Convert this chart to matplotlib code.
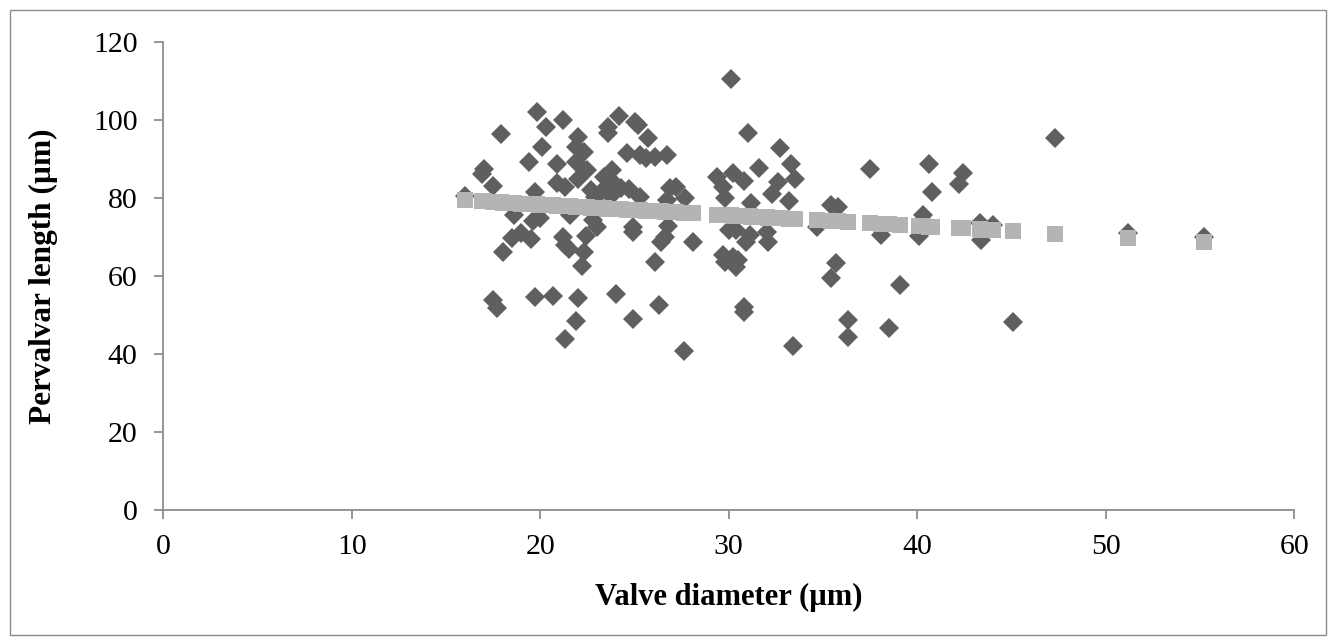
import numpy as np
import matplotlib
matplotlib.use("Agg")
import matplotlib.pyplot as plt
from matplotlib.patches import Rectangle

# Valve diameter (µm) and pervalvar length (µm)
valve_diameter = [
    16.0, 17.0, 16.9, 17.5, 17.9, 19.8, 20.3, 21.2, 20.1, 19.4, 20.9, 22.0, 21.9, 22.3,
    21.9, 22.5, 22.0, 20.9, 21.3, 19.7, 22.7, 22.9, 18.6, 19.6, 20.0, 21.6, 22.8, 18.5,
    19.0, 19.5, 21.2, 22.4, 23.0, 18.0, 21.3, 21.5, 22.3, 22.2, 17.5, 17.7, 19.7, 20.7,
    22.0, 21.9, 21.3,
    24.2, 23.6, 23.6, 25.0, 25.2, 25.7, 24.6, 25.3, 25.6, 26.1, 26.7, 23.8, 23.4, 23.8,
    23.3, 23.6, 23.9, 24.3, 24.7, 25.3, 26.9, 27.2, 27.7, 26.7, 29.4, 30.2, 30.8, 29.7,
    29.8, 31.0, 24.9, 24.9, 26.8, 26.6, 26.4, 28.1, 30.0, 30.4, 26.1, 24.0, 26.3, 24.9,
    27.6, 29.7, 30.2, 30.4, 30.5, 29.8, 30.9, 30.8, 30.8, 30.1,
    32.7, 31.6, 33.3, 32.6, 33.5, 32.3, 31.2, 33.2, 35.4, 35.8, 34.7, 31.1, 32.0, 32.1,
    35.7, 35.4, 36.3, 36.3, 33.4, 37.5, 38.1, 39.1, 38.5, 40.3, 40.1, 40.6, 40.8, 42.4,
    42.2, 43.3, 43.4, 44.0, 45.1, 47.3, 51.2, 55.2,
]
pervalvar_length = [
    80.5, 87.4, 86.1, 83.0, 96.4, 102.0, 98.2, 100.0, 93.0, 89.2, 88.7, 95.6, 93.0, 91.8,
    89.2, 87.2, 85.0, 83.8, 82.8, 81.5, 82.0, 80.3, 75.6, 74.1, 74.9, 75.6, 74.4, 69.8,
    71.0, 69.6, 70.0, 70.3, 72.6, 66.2, 68.0, 67.0, 66.2, 62.6, 53.8, 51.8, 54.6, 54.9,
    54.4, 48.5, 43.8,
    101.0, 98.2, 96.7, 99.5, 98.7, 95.4, 91.5, 91.0, 90.3, 90.5, 91.0, 87.2, 85.4, 84.4,
    82.0, 81.3, 81.3, 82.6, 82.3, 80.3, 82.6, 82.8, 80.0, 79.5, 85.4, 86.4, 84.4, 82.8,
    80.0, 96.7, 72.6, 71.3, 72.8, 70.0, 68.7, 68.8, 71.8, 71.8, 63.6, 55.4, 52.6, 49.0,
    40.8, 65.4, 64.9, 62.3, 64.1, 63.6, 68.7, 52.0, 50.8, 110.5,
    92.8, 87.7, 88.7, 84.1, 84.9, 81.0, 78.7, 79.2, 78.2, 77.7, 72.6, 70.5, 71.3, 68.7,
    63.3, 59.5, 48.7, 44.4, 42.0, 87.4, 70.5, 57.7, 46.7, 75.6, 70.3, 88.7, 81.5, 86.4,
    83.6, 73.6, 69.2, 73.0, 48.2, 95.4, 71.0, 70.0,
]

x_ticks = [0, 10, 20, 30, 40, 50, 60]
y_ticks = [0, 20, 40, 60, 80, 100, 120]

x = np.array(valve_diameter)
y = np.array(pervalvar_length)
slope, intercept = np.polyfit(x, y, 1)
predicted = intercept + slope * x

plt.rcParams['font.family'] = ['Liberation Serif', 'DejaVu Serif']

fig = plt.figure(figsize=(13.28, 6.37), dpi=100)
ax = fig.add_axes([163.3 / 1328, 1 - 510 / 637, (1294.3 - 163.3) / 1328, (510 - 42) / 637])

ax.plot(x, y, linestyle='none', marker='D', markersize=10, color='#5f5f5f',
        markeredgewidth=0, zorder=3, clip_on=False)
ax.plot(x, predicted, linestyle='none', marker='s', markersize=11, color='#b4b4b4',
        markeredgewidth=0, zorder=4, clip_on=False)

ax.set_xlim(0, 60)
ax.set_ylim(0, 120)
ax.set_xticks(x_ticks)
ax.set_yticks(y_ticks)
for s in ['top', 'right']:
    ax.spines[s].set_visible(False)
for s in ['left', 'bottom']:
    ax.spines[s].set_color('#8c8c8c')
    ax.spines[s].set_linewidth(1.3)
ax.tick_params(axis='both', direction='out', length=6.5, width=1.3, color='#8c8c8c',
               labelsize=21.5, labelcolor='black')
ax.tick_params(axis='x', pad=11)
ax.tick_params(axis='y', pad=12)

ax.set_xlabel('Valve diameter (µm)', fontsize=22, fontweight='bold', labelpad=16)
ax.set_ylabel('Pervalvar length (µm)', fontsize=22.5, fontweight='bold', labelpad=25)

fig.patches.append(Rectangle((10 / 1328, 2 / 637), 1316 / 1328, 625 / 637,
                             transform=fig.transFigure, fill=False,
                             edgecolor='#8c8c8c', linewidth=1.0))

fig.savefig('out.png', dpi=100)
